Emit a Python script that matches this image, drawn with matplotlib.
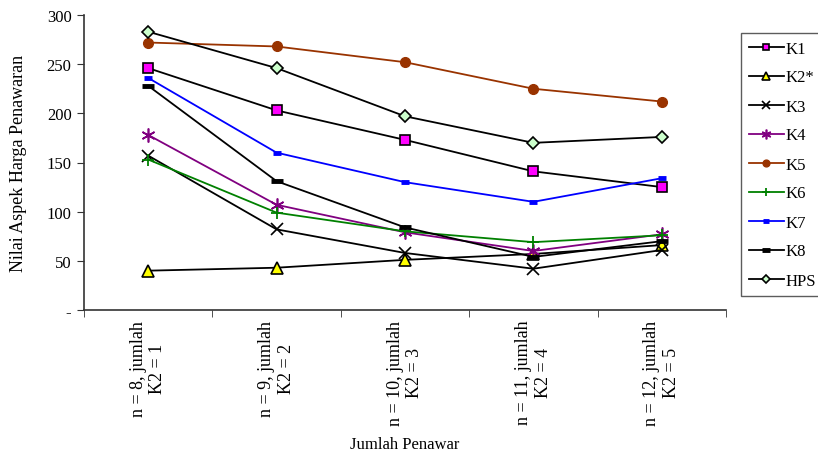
import matplotlib.pyplot as plt
from matplotlib.ticker import FixedLocator

plt.rcParams["font.family"] = ["Liberation Serif", "DejaVu Serif"]

# Kategori jumlah penawar
kategori = [
    "n = 8, jumlah\nK2 = 1",
    "n = 9, jumlah\nK2 = 2",
    "n = 10, jumlah\nK2 = 3",
    "n = 11, jumlah\nK2 = 4",
    "n = 12, jumlah\nK2 = 5",
]

# Nilai aspek harga penawaran per peserta
k1 = [246, 203, 173, 141, 125]
k2 = [40, 43, 51, 57, 66]
k3 = [157, 82, 58, 42, 61]
k4 = [178, 107, 79, 60, 77]
k5 = [272, 268, 252, 225, 212]
k6 = [153, 99, 80, 69, 76]
k7 = [236, 160, 130, 110, 134]
k8 = [228, 131, 84, 54, 70]
hps = [283, 246, 197, 170, 176]

yticks = [0, 50, 100, 150, 200, 250, 300]
ytick_labels = ["-", "50", "100", "150", "200", "250", "300"]

fig = plt.figure(figsize=(8.18, 4.52), dpi=100)
ax = fig.add_axes([84 / 818, 1 - 311 / 452, (726 - 84) / 818, (311 - 16) / 452])

x = list(range(len(kategori)))
lw = 1.3

ax.plot(x, k1, color="black", lw=lw, marker="s", ms=7, mfc="#FF00FF", mec="black", mew=1.2, label="K1")
ax.plot(x, k2, color="black", lw=lw, marker="^", ms=8, mfc="#FFFF00", mec="black", mew=1.2, label="K2*")
ax.plot(x, k3, color="black", lw=lw, marker="x", ms=8, mew=1.2, label="K3")
ax.plot(x, k4, color="#800080", lw=lw, marker=(6, 2, 0), ms=10, mew=1.2, label="K4")
ax.plot(x, k5, color="#993300", lw=lw, marker="o", ms=7, mfc="#993300", mec="#993300", label="K5")
ax.plot(x, k6, color="#008000", lw=lw, marker="+", ms=9, mew=1.3, label="K6")
ax.plot(x, k7, color="#0000FF", lw=lw, marker="_", ms=6, mew=3.5, label="K7")
ax.plot(x, k8, color="black", lw=lw, marker="_", ms=8, mew=3.5, label="K8")
ax.plot(x, hps, color="black", lw=lw, marker="D", ms=6, mfc="#CCFFCC", mec="black", mew=1.2, label="HPS")

ax.set_xlim(-0.5, len(kategori) - 0.5)
ax.set_ylim(0, 300)

ax.set_yticks(yticks)
ax.set_yticklabels(ytick_labels, fontsize=12)
ax.set_xticks(x)
ax.set_xticklabels(kategori, rotation=90, fontsize=13, ha="center", va="top",
                   multialignment="center")
ax.xaxis.set_minor_locator(FixedLocator([i - 0.5 for i in range(len(kategori) + 1)]))
ax.tick_params(axis="x", which="major", length=0, pad=7)
ax.tick_params(axis="x", which="minor", length=5, direction="out", color="#333333")
ax.tick_params(axis="y", length=5, direction="out", color="#333333", pad=4)

for side in ["top", "right"]:
    ax.spines[side].set_visible(False)
for side in ["left", "bottom"]:
    ax.spines[side].set_color("#333333")
    ax.spines[side].set_linewidth(1.2)

ax.set_ylabel("Nilai Aspek Harga Penawaran", fontsize=13, labelpad=14)
ax.set_xlabel("Jumlah Penawar", fontsize=12, labelpad=8)

leg = fig.legend(loc="upper left", bbox_to_anchor=(741 / 818, 1 - 34 / 452),
                 fontsize=12, frameon=True, fancybox=False, edgecolor="#333333",
                 handlelength=2.1, labelspacing=0.78, borderpad=0.45,
                 handletextpad=0.15, borderaxespad=0, markerscale=0.7)
leg.get_frame().set_linewidth(1.0)

fig.savefig("out.png", dpi=100)
